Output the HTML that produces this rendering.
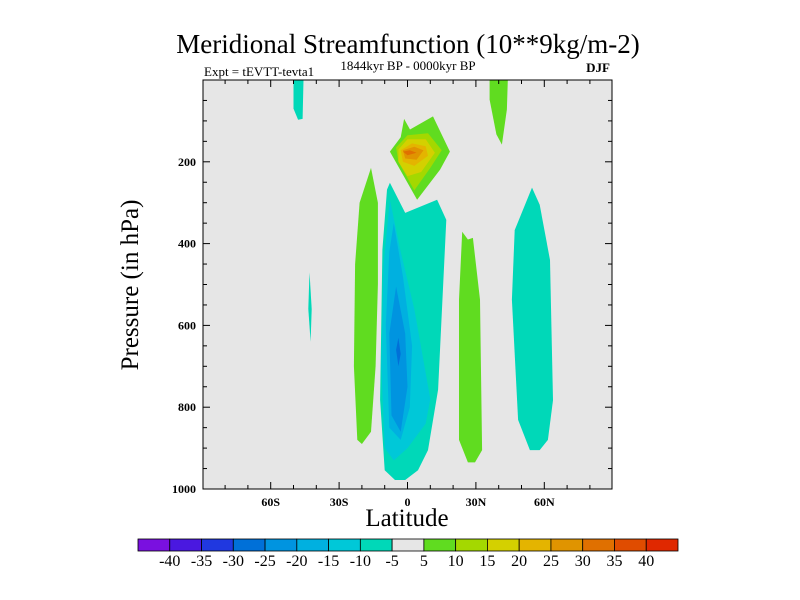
<!DOCTYPE html>
<html><head><meta charset="utf-8"><style>
body{margin:0;background:#fff;}
svg{display:block;font-family:"Liberation Serif",serif;}
</style></head><body>
<svg id="chart" width="800" height="600" viewBox="0 0 800 600">
<text x="408" y="53" font-size="27" text-anchor="middle">Meridional Streamfunction (10**9kg/m-2)</text>
<text x="204" y="76" font-size="13">Expt = tEVTT-tevta1</text>
<text x="408" y="70" font-size="13" text-anchor="middle">1844kyr BP - 0000kyr BP</text>
<text x="610" y="72" font-size="13" text-anchor="end" font-weight="bold">DJF</text>
<rect x="203" y="80" width="409" height="409" fill="#e6e6e6"/>
<g id="fills"></g>
<rect x="203" y="80" width="409" height="409" fill="none" stroke="#000" stroke-width="1"/>
<g id="axes"></g>
<text x="407" y="526" font-size="25" text-anchor="middle">Latitude</text>
<text transform="translate(138,285) rotate(-90)" font-size="25" text-anchor="middle">Pressure (in hPa)</text>
<g id="colorbar"></g>
</svg>
<script>
const xTicks=[-60,-30,0,30,60];
const xTickLabels=["60S","30S","0","30N","60N"];
const yTicks=[200,400,600,800,1000];
const levelColors=["#7a10e0","#4a18e0","#2038e0","#0070d8","#0094e0","#00b0e0","#00c8d8","#00d8b8","#e6e6e6","#60dc20","#a4d800","#d4d000","#e4b400","#e09400","#e07000","#e04c00","#e02800"];
const levelLabels=["-40","-35","-30","-25","-20","-15","-10","-5","5","10","15","20","25","30","35","40"];
// contour regions: level index, polygon of [latitude, pressure]
const regionLevels=[9,7,6,5,4,3,7,9,7,9,7,7,9,10,11,12,13,14];
const regionShapes=[
[[-16,215],[-13,300],[-13,500],[-14,700],[-16,860],[-20,890],[-22,880],[-23.5,700],[-23,450],[-21,300]],
[[-7.7,251],[-1,325],[13,293],[17,342],[13.4,757],[9,905],[4.6,954],[-1,978],[-5.5,978],[-10,954],[-12,782],[-11,415],[-9,268]],
[[-7.7,293],[-3,420],[3,560],[10,780],[8,840],[0,900],[-6,930],[-10,900],[-11.5,700],[-10.5,450]],
[[-6,350],[-2,480],[2,650],[1,800],[-3,880],[-8,850],[-9.5,600],[-8,420]],
[[-5,505],[-1,620],[0,750],[-3,860],[-7,820],[-8,620]],
[[-4,630],[-3,670],[-4,700],[-5,660]],
[[5.5,325],[14,330],[13,380],[8,440]],
[[24,371],[26.5,390],[28.7,386],[31.8,537],[32.7,905],[29.6,935],[26.5,935],[22.6,880],[22.6,537]],
[[54.6,263],[58,305],[62.5,440],[63.8,783],[61.6,880],[58,905],[53.7,905],[48.5,831],[45.8,537],[47,367]],
[[36,0],[44,0],[43.6,72],[41.4,158],[39,133],[36,48]],
[[-50,0],[-45.6,0],[-46,95],[-48,97],[-50,70]],
[[-43,470],[-42,560],[-42.5,640],[-43.5,560]],
[[-1.5,95],[1.1,121],[11.2,89],[18.6,175],[14.3,219],[4.2,293],[-7.7,175],[-3,140]],
[[-5,165],[0,135],[9,130],[15,172],[10,215],[3,270],[-4,200]],
[[-4,170],[0,145],[8,145],[12,178],[6,225],[0,235],[-4,200]],
[[-3,172],[2,155],[8,162],[9,185],[3,210],[-2,200]],
[[-2,172],[3,163],[7,172],[4,195],[-1,192]],
[[-2,175],[1,172],[4,178],[0,184]]
];
const NS="http://www.w3.org/2000/svg";
const L=203,R=612,T=80,B=489;
function xs(lat){return 407.5+lat*2.28;}
function ys(p){return T+p/1000*(B-T);}
function mk(t,a,parent){const e=document.createElementNS(NS,t);for(const k in a)e.setAttribute(k,a[k]);parent.appendChild(e);return e;}
const fills=document.getElementById('fills');
regionShapes.forEach((poly,i)=>{
  const pts=poly.map(d=>xs(d[0]).toFixed(1)+','+ys(d[1]).toFixed(1)).join(' ');
  const el=mk('polygon',{points:pts,fill:levelColors[regionLevels[i]]},fills);
  
  
});
const ax=document.getElementById('axes');
for(let lat=-80;lat<=80;lat+=10){
  const major=xTicks.includes(lat);const len=major?7:4;const x=xs(lat);
  const t1=mk('line',{x1:x,x2:x,y1:B,y2:B-len,stroke:'#000'},ax);
  
  
  const t2=mk('line',{x1:x,x2:x,y1:T,y2:T+len,stroke:'#000'},ax);
  
  
}
xTicks.forEach((v,i)=>{
  const t=mk('text',{x:xs(v),y:506,'font-size':12,'font-weight':'bold','text-anchor':'middle'},ax);
  t.textContent=xTickLabels[i];
  
  
});
for(let p=50;p<1000;p+=50){
  const major=yTicks.includes(p);const len=major?7:4;const y=ys(p);
  const t1=mk('line',{x1:L,x2:L+len,y1:y,y2:y,stroke:'#000'},ax);
  
  
  const t2=mk('line',{x1:R,x2:R-len,y1:y,y2:y,stroke:'#000'},ax);
  
  
}
yTicks.forEach(v=>{
  const t=mk('text',{x:196,y:ys(v)+4,'font-size':12,'font-weight':'bold','text-anchor':'end'},ax);
  t.textContent=v;
  
  
});
const cb=document.getElementById('colorbar');
const cbL=138,cbW=540,cbT=539,cbH=12,bw=cbW/levelColors.length;
levelColors.forEach((c,i)=>{
  const r=mk('rect',{x:cbL+i*bw,y:cbT,width:bw,height:cbH,fill:c,stroke:'#000','stroke-width':0.8},cb);
  
  
});
levelLabels.forEach((s,i)=>{
  const t=mk('text',{x:cbL+(i+1)*bw,y:566,'font-size':16,'text-anchor':'middle'},cb);
  t.textContent=s;
  
  
});
</script>
</body></html>
